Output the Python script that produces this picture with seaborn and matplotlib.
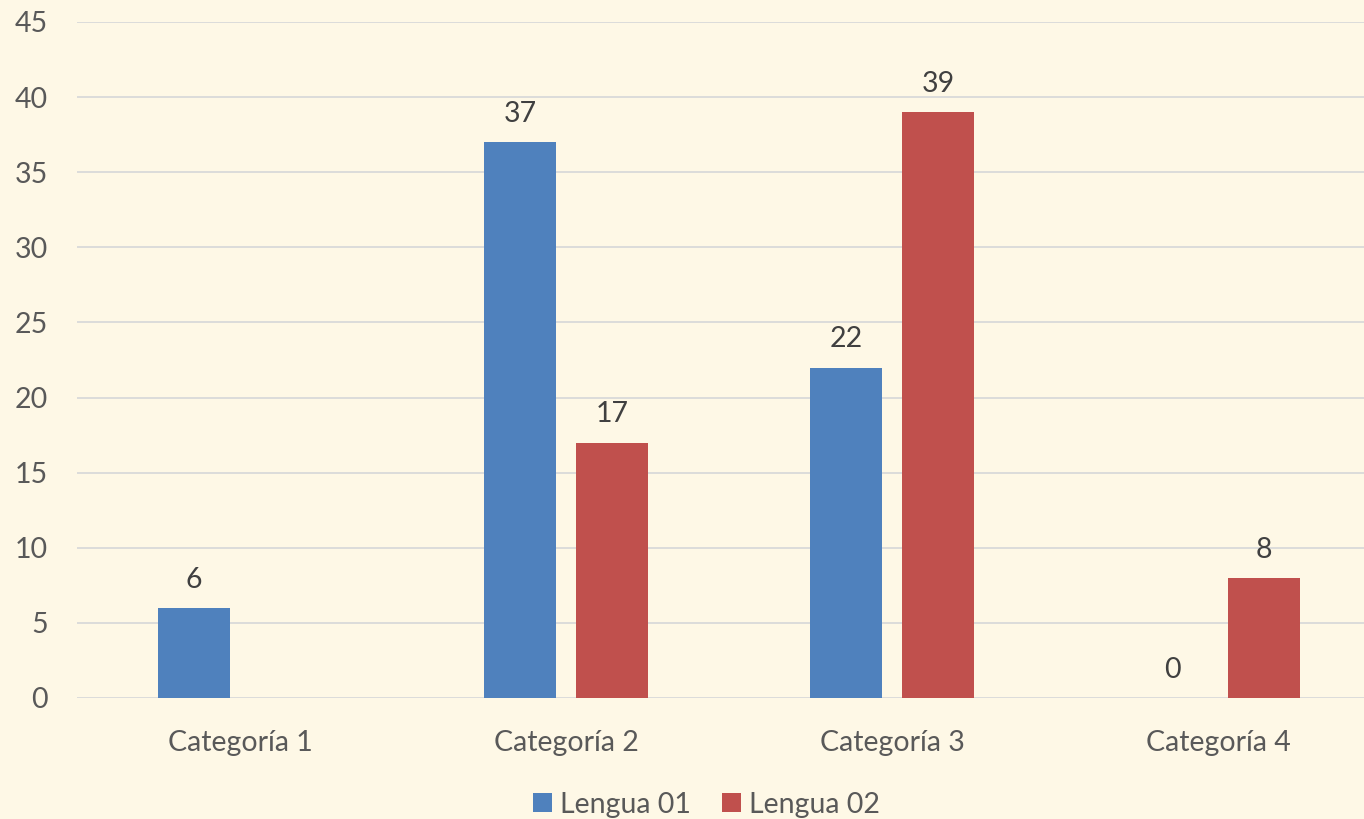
import numpy as np
import pandas as pd
import seaborn as sns
import matplotlib.pyplot as plt

categorias = ['Categoría 1', 'Categoría 2', 'Categoría 3', 'Categoría 4']
lengua_01 = [6, 37, 22, 0]
lengua_02 = [np.nan, 17, 39, 8]
series = ['Lengua 01', 'Lengua 02']
colores = ['#4F81BD', '#C0504D']

df = pd.DataFrame({
    'categoria': categorias * 2,
    'valor': lengua_01 + lengua_02,
    'serie': [series[0]] * 4 + [series[1]] * 4,
})

sns.set_theme(style='white')
plt.rcParams['font.family'] = ['Lato', 'DejaVu Sans']

fondo = '#FEF8E6'
tam = 20.5
fig = plt.figure(figsize=(13.64, 8.19), dpi=100, facecolor=fondo)
ax = fig.add_axes([77 / 1364, 121 / 819, 1304 / 1364, 676 / 819])
ax.set_facecolor(fondo)

sns.barplot(data=df, x='categoria', y='valor', hue='serie', order=categorias,
            hue_order=series, palette=colores, width=0.564, gap=0.22,
            saturation=1, errorbar=None, linewidth=0, edgecolor='none',
            ax=ax, zorder=3)

# etiquetas de valor sobre las barras
for cont in ax.containers:
    alturas = [b.get_height() for b in cont]
    etiquetas = ['' if np.isnan(h) else f'{h:.0f}' for h in alturas]
    ax.bar_label(cont, labels=etiquetas, padding=11, fontsize=tam, color='#404040')

ax.set_xlim(-0.5, 3.5)
ax.set_ylim(0, 45)
ax.set_yticks(range(0, 46, 5))
ax.grid(axis='y', color='#D9D9D9', linewidth=1.3, zorder=0)
ax.set_axisbelow(True)
for s in ax.spines.values():
    s.set_visible(False)
ax.tick_params(axis='y', length=0, pad=21, labelsize=tam, labelcolor='#595959')
ax.tick_params(axis='x', length=0, pad=23, labelsize=tam, labelcolor='#595959')
ax.set_xlabel('')
ax.set_ylabel('')

leg = ax.legend(loc='lower center', bbox_to_anchor=(0.483, -0.215),
                ncol=2, frameon=False, fontsize=tam, handlelength=0.65, handleheight=0.65,
                handletextpad=0.3, columnspacing=1.1)
for t in leg.get_texts():
    t.set_color('#595959')

fig.savefig('out.png', dpi=100, facecolor=fondo)
